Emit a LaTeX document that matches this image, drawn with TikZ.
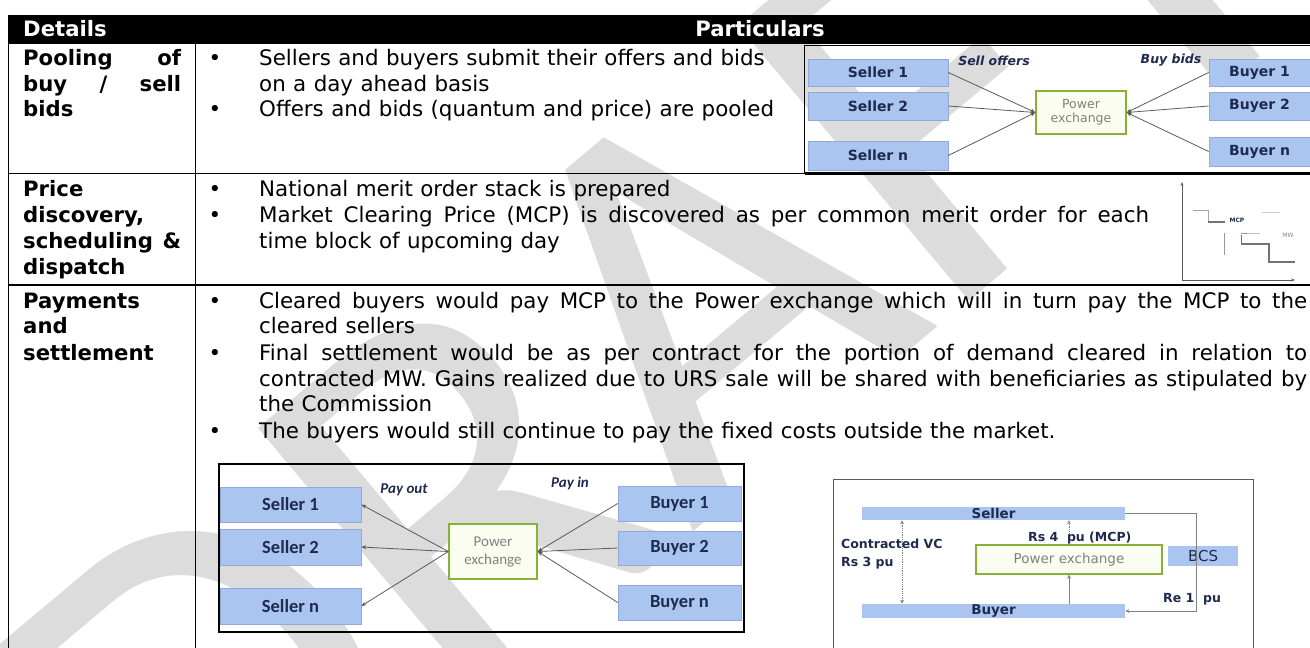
\documentclass[tikz,border=0pt]{standalone}
\usepackage{fontspec}
\setmainfont{DejaVu Sans}
\newfontfamily\carl{Carlito}
\usetikzlibrary{arrows.meta}
\definecolor{bxblue}{RGB}{170,197,240}
\definecolor{bxedge}{RGB}{145,170,215}
\definecolor{navy}{RGB}{30,42,78}
\definecolor{pegreen}{RGB}{135,178,55}
\definecolor{pefill}{RGB}{251,253,240}
\definecolor{wmgray}{RGB}{220,220,220}
\definecolor{lngray}{RGB}{90,90,90}
\newcommand{\bodyfont}{\fontsize{21.4}{25}\selectfont\spaceskip=7.4pt plus 3pt minus 2pt\relax}
\newcommand{\headfont}{\fontsize{21.2}{25}\selectfont\bfseries}
\tikzset{
  body/.style={anchor=base west, inner sep=0pt, font=\bodyfont},
  head/.style={anchor=base west, inner sep=0pt, font=\headfont},
  bul/.style={anchor=base, inner sep=0pt, font=\bodyfont},
  rule/.style={line width=1.4pt, black},
  sbox/.style={draw=bxedge, fill=bxblue, line width=0.6pt, inner sep=0pt, text=navy, font=\fontsize{14}{16}\selectfont\bfseries},
  cbox/.style={draw=bxedge, fill=bxblue, line width=0.6pt, inner sep=0pt, text=navy, font=\carl\fontsize{18.5}{20}\selectfont\bfseries},
  pebox/.style={draw=pegreen, fill=pefill, line width=1.3pt, inner sep=0pt, text=gray, align=center},
  conn/.style={draw=lngray, line width=0.8pt},
  tip/.style={-{Stealth[length=5pt,width=4pt]}},
  small/.style={inner sep=0pt, text=navy, font=\fontsize{12.5}{14}\selectfont\bfseries},
  lbl/.style={inner sep=0pt, text=navy, font=\fontsize{12.5}{14}\selectfont\bfseries\itshape},
  clbl/.style={inner sep=0pt, text=navy, font=\carl\fontsize{15}{17}\selectfont\bfseries\itshape},
}
\begin{document}
\begin{tikzpicture}[x=1pt,y=-1pt]
\useasboundingbox (0,0) rectangle (1310,648);
% watermark
\begin{scope}
\clip (0,0) rectangle (1310,648);
\node[rotate=40, text=wmgray, inner sep=0pt, font=\carl\fontsize{560}{560}\selectfont] (wm) at (655,330) {DRAFT};
\end{scope}
% header
\fill (8,14.5) rectangle (1310,43.5);
\node[head, text=white] (hd) at (23,36) {Details};
\node[head, anchor=base, text=white] (hp) at (760,36) {Particulars};
% table rules
\draw[rule] (8.5,43.5) -- (8.5,648);
\draw[rule] (195.5,43.5) -- (195.5,648);
\draw[rule] (8,173.6) -- (1310,173.6);
\draw[rule] (8,285) -- (1310,285);
% row 1
\node[head] (p1) at (23,65) {\makebox[158pt][s]{Pooling of}};
\node[head] (p2) at (23,91) {\makebox[158pt][s]{buy / sell}};
\node[head] (p3) at (23,116.5) {bids};
\node[bul] (b11) at (215,65) {•};
\node[body] (t11) at (259,65) {Sellers and buyers submit their offers and bids};
\node[body] (t12) at (259,91) {on a day ahead basis};
\node[bul] (b12) at (215,116.5) {•};
\node[body] (t13) at (259,116.5) {Offers and bids (quantum and price) are pooled};
% row 2
\node[head] (q1) at (23,196) {Price};
\node[head] (q2) at (23,222) {discovery,};
\node[head] (q3) at (23,248) {\makebox[158pt][s]{scheduling \&}};
\node[head] (q4) at (23,274) {dispatch};
\node[bul] (b21) at (215,196) {•};
\node[body] (t21) at (259,196) {National merit order stack is prepared};
\node[bul] (b22) at (215,222) {•};
\node[body] (t22) at (259,222) {\makebox[890pt][s]{Market Clearing Price (MCP) is discovered as per common merit order for each}};
\node[body] (t23) at (259,248) {time block of upcoming day};
% row 3
\node[head] (r1) at (23,308) {Payments};
\node[head] (r2) at (23,333) {and};
\node[head] (r3) at (23,360) {settlement};
\node[bul] (b31) at (215,308) {•};
\node[body] (t31) at (259,308) {\makebox[1048pt][s]{Cleared buyers would pay MCP to the Power exchange which will in turn pay the MCP to the}};
\node[body] (t32) at (259,333) {cleared sellers};
\node[bul] (b32) at (215,360) {•};
\node[body] (t33) at (259,360) {\makebox[1048pt][s]{Final settlement would be as per contract for the portion of demand cleared in relation to}};
\node[body] (t34) at (259,386) {\makebox[1048pt][s]{contracted MW. Gains realized due to URS sale will be shared with beneficiaries as stipulated by}};
\node[body] (t35) at (259,411) {the Commission};
\node[bul] (b33) at (215,438) {•};
\node[body] (t36) at (259,438) {The buyers would still continue to pay the fixed costs outside the market.};
% ---------- inset 1
\draw[line width=1.2pt] (1310,45.5) -- (804.5,45.5) -- (804.5,173.6) -- (1310,173.6);
\draw[line width=2.4pt] (804.5,173.6) -- (1310,173.6);
\node[sbox, minimum width=140pt, minimum height=27pt] (s1) at (878,72.5) {Seller 1};
\node[sbox, minimum width=140pt, minimum height=28pt] (s2) at (878,106) {Seller 2};
\node[sbox, minimum width=140pt, minimum height=29pt] (sn) at (878,155.5) {Seller n};
\node[sbox, minimum width=101pt, minimum height=27pt] (y1) at (1259.5,72.5) {Buyer 1};
\node[sbox, minimum width=101pt, minimum height=28pt] (y2) at (1259.5,106) {Buyer 2};
\node[sbox, minimum width=101pt, minimum height=29pt] (yn) at (1259.5,151.5) {Buyer n};
\node[pebox, minimum width=90pt, minimum height=43pt, font=\fontsize{12.5}{14}\selectfont] (pe1) at (1081,112.5) {Power\\exchange};
\node[lbl] (so) at (994,61) {Sell offers};
\node[lbl] (bb) at (1171,60) {Buy bids};
\foreach \n in {s1,s2,sn} \draw[conn,tip] (\n.east) -- (pe1.west);
\foreach \n in {y1,y2,yn} \draw[conn,tip] (\n.west) -- (pe1.east);
% ---------- row 2 chart
\draw[lngray, line width=0.8pt, -{Stealth[length=4pt,width=3pt]}] (1182,280) -- (1182,182);
\draw[lngray, line width=0.8pt, -{Stealth[length=4pt,width=3pt]}] (1182,280) -- (1295,280);
\draw[gray!70, line width=1pt] (1193,210) -- (1208,210) -- (1208,222);
\draw[gray!90!black, line width=1.4pt] (1208,222) -- (1225,222);
\node[inner sep=0pt, text=navy, font=\fontsize{6}{7}\selectfont\bfseries] (mcp) at (1237,220) {MCP};
\draw[gray!40, line width=1pt] (1262,212) -- (1280,212);
\draw[cyan!60!blue!60, line width=1.2pt] (1240.5,233.5) -- (1246.5,233.5);
\draw[gray!50, line width=1pt] (1246.5,233.5) -- (1260,233.5);
\draw[gray!80, line width=1pt] (1224,233) -- (1224,255);
\draw[gray!90!black, line width=1.4pt] (1241.5,235) -- (1241.5,244) -- (1269,244) -- (1269,262) -- (1295,262);
\node[inner sep=0pt, text=gray, font=\fontsize{6}{7}\selectfont] (mw) at (1288,235) {MW};
% ---------- inset 2
\draw[line width=2.5pt] (219,464) rectangle (744,632);
\node[cbox, minimum width=141pt, minimum height=35pt] (c1) at (290.5,504.5) {Seller 1};
\node[cbox, minimum width=141pt, minimum height=36pt] (c2) at (290.5,547) {Seller 2};
\node[cbox, minimum width=141pt, minimum height=36pt] (c3) at (290.5,606) {Seller n};
\node[cbox, minimum width=123pt, minimum height=35pt] (d1) at (679.5,503.5) {Buyer 1};
\node[cbox, minimum width=123pt, minimum height=34pt] (d2) at (679.5,548) {Buyer 2};
\node[cbox, minimum width=123pt, minimum height=35pt] (d3) at (679.5,602.5) {Buyer n};
\node[pebox, minimum width=88pt, minimum height=55pt, font=\carl\fontsize{15}{18}\selectfont] (pe2) at (493,551.5) {Power\\exchange};
\node[clbl] (po) at (404,490) {Pay out};
\node[clbl] (pi) at (570,483) {Pay in};
\foreach \n in {c1,c2,c3} \draw[conn,tip] (pe2.west) -- (\n.east);
\foreach \n in {d1,d2,d3} \draw[conn,tip] (\n.west) -- (pe2.east);
% ---------- inset 3
\draw[gray!70!black, line width=1pt] (833,660) -- (833,479) -- (1253,479) -- (1253,660);
\node[sbox, minimum width=263pt, minimum height=13pt, draw=none, font=\fontsize{13.5}{15}\selectfont\bfseries] (sel) at (993.5,513.5) {Seller};
\node[sbox, minimum width=263pt, minimum height=14pt, draw=none, font=\fontsize{13.5}{15}\selectfont\bfseries] (buy) at (993.5,611) {Buyer};
\node[pebox, minimum width=186pt, minimum height=29pt, font=\fontsize{13.5}{15}\selectfont] (pe3) at (1069,559.5) {Power exchange};
\node[sbox, minimum width=70pt, minimum height=20pt, draw=none, font=\fontsize{15}{17}\selectfont] (bcs) at (1203,556) {BCS};
\coordinate (lx) at (902,0);
\coordinate (mx) at (1069,0);
\coordinate (rx) at (1196,0);
\draw[gray, line width=0.8pt, densely dotted, {Stealth[length=4pt,width=4pt]}-{Stealth[length=4pt,width=4pt]}] (sel.south -| lx) -- (buy.north -| lx);
\draw[gray, line width=0.8pt, densely dotted, -{Stealth[length=4pt,width=4pt]}] (pe3.north) -- (sel.south -| mx);
\draw[gray, line width=0.8pt, -{Stealth[length=4pt,width=4pt]}] (buy.north -| mx) -- (pe3.south);
\draw[gray, line width=0.8pt, -{Stealth[length=4pt,width=4pt]}] (sel.east) -- (sel.east -| rx) -- (buy.east -| rx) -- (buy.east);
\node[small, anchor=west] (cvc) at (841,544) {Contracted VC};
\node[small, anchor=west] (rs3) at (841,563) {Rs 3 pu};
\node[small, anchor=west] (rs4) at (1028,538) {Rs 4 \ pu (MCP)};
\node[small, anchor=west] (re1) at (1163,599) {Re 1 \ pu};
\end{tikzpicture}
\end{document}
